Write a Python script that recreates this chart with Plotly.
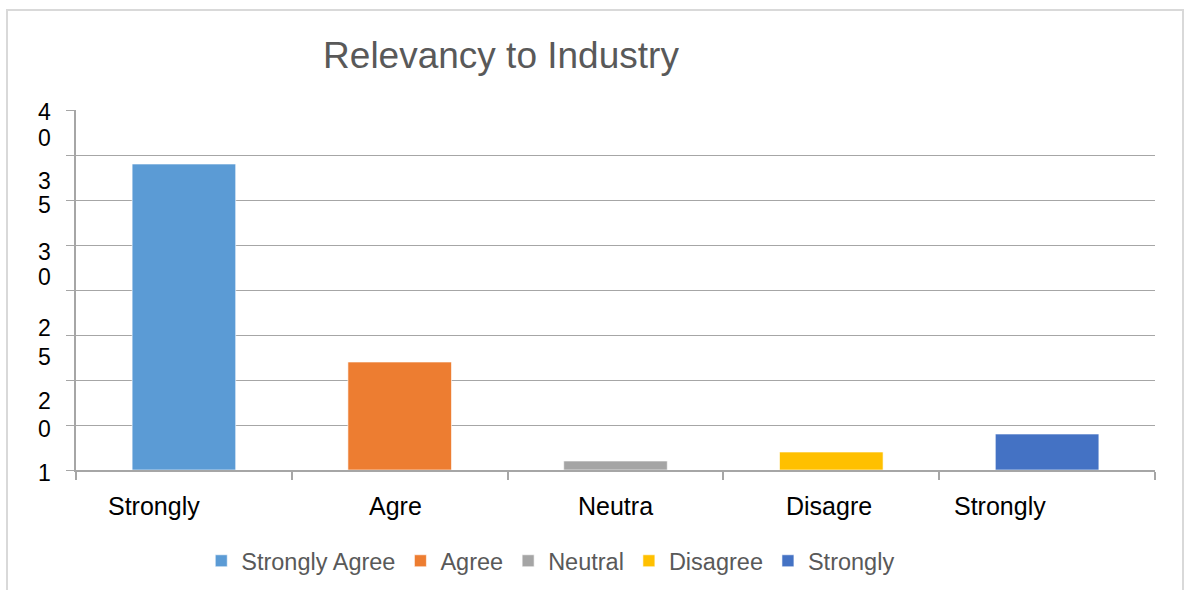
import plotly.graph_objects as go

# ---- data ----
categories = ["Strongly Agree", "Agree", "Neutral", "Disagree", "Strongly"]
values = [34, 12, 1, 2, 4]
colors = ["#5B9BD5", "#ED7D31", "#A5A5A5", "#FFC000", "#4472C4"]
x_labels = ["Strongly", "Agre", "Neutra", "Disagre", "Strongly"]
y_label_chars = ["4", "0", "3", "5", "3", "0", "2", "5", "2", "0", "1"]
title_text = "Relevancy to Industry"

# ---- style / placement ----
x_label_offsets = [-0.14, -0.02, 0.0, -0.01, -0.22]
y_label_px = [112, 138, 181, 205, 252, 277, 328, 357, 401, 429, 473]  # pixel centres
FONT = "Liberation Sans, Arial, sans-serif"
PLOT_TOP, PLOT_BOTTOM = 110, 470


def py_to_paper(py):
    return (PLOT_BOTTOM - py) / (PLOT_BOTTOM - PLOT_TOP)


fig = go.Figure()
for cat, val, col in zip(categories, values, colors):
    fig.add_trace(go.Bar(
        x=[cat], y=[val], name=cat, width=0.48,
        marker=dict(color=col, line=dict(color="rgba(255,255,255,0.6)", width=1)),
        hoverinfo="x+y",
    ))

annotations = []
for i, (lab, off) in enumerate(zip(x_labels, x_label_offsets)):
    annotations.append(dict(
        x=i + off, y=py_to_paper(506), xref="x", yref="paper", text=lab, showarrow=False,
        font=dict(family=FONT, size=25, color="#000000"),
        xanchor="center", yanchor="middle",
    ))
for ch, py in zip(y_label_chars, y_label_px):
    annotations.append(dict(
        x=(44 - 76) / 1079, y=py_to_paper(py), xref="paper", yref="paper", text=ch,
        showarrow=False, font=dict(family=FONT, size=23, color="#000000"),
        xanchor="center", yanchor="middle",
    ))

fig.update_layout(
    width=1185, height=590,
    margin=dict(l=76, r=30, t=110, b=120, autoexpand=False),
    paper_bgcolor="white", plot_bgcolor="white",
    barmode="overlay",
    title=dict(text=title_text, x=501 / 1185, xref="container", xanchor="center",
               y=1 - 55 / 590, yref="container", yanchor="middle",
               font=dict(family=FONT, size=37, color="#595959")),
    showlegend=True,
    legend=dict(orientation="h", x=0.44, xanchor="center", xref="paper",
                y=py_to_paper(561), yanchor="middle",
                font=dict(family=FONT, size=23.5, color="#595959"),
                itemclick=False, traceorder="normal"),
    annotations=annotations,
    shapes=[dict(type="rect", xref="paper", yref="paper",
                 x0=(7 - 76) / 1079, x1=(1183 - 76) / 1079,
                 y0=-0.4, y1=py_to_paper(10),
                 line=dict(color="#d9d9d9", width=2), fillcolor="rgba(0,0,0,0)",
                 layer="below")],
)
fig.update_xaxes(
    type="category", categoryorder="array", categoryarray=categories,
    showticklabels=False, showgrid=False,
    showline=True, linecolor="#a6a6a6", linewidth=1.5,
    ticks="outside", ticklen=8, tickcolor="#a6a6a6", tickwidth=1.5,
    tickson="boundaries", range=[-0.5, 4.5], fixedrange=True,
)
fig.update_yaxes(
    range=[0, 40], dtick=5, showticklabels=False,
    showgrid=True, gridcolor="#a6a6a6", gridwidth=1.2,
    showline=True, linecolor="#a6a6a6", linewidth=1.5,
    ticks="outside", ticklen=8, tickcolor="#a6a6a6", tickwidth=1.2,
    zeroline=False, fixedrange=True,
)

fig.write_html("out.html", config={"displayModeBar": False},
               post_script="document.body.style.margin='0';document.body.style.overflow='hidden';")
